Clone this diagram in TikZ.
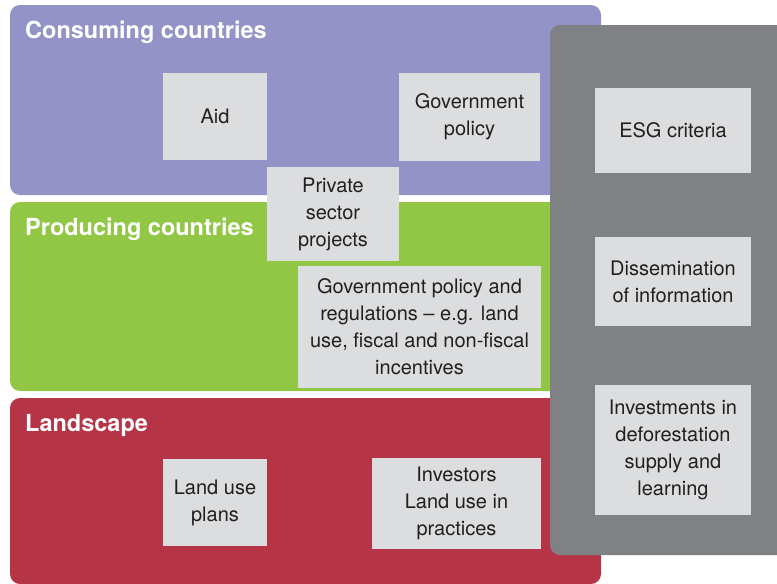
\documentclass[tikz,border=0pt]{standalone}
\usepackage{fontspec}
\setmainfont{TeX Gyre Heros}
\usetikzlibrary{positioning}

\definecolor{consumer}{HTML}{9393C8}
\definecolor{producer}{HTML}{92C746}
\definecolor{landscape}{HTML}{B53446}
\definecolor{finance}{HTML}{808184}
\definecolor{boxgrey}{HTML}{DCDDDF}
\definecolor{boxtext}{HTML}{231F20}

\tikzset{
	band/.style={rounded corners=10pt},
	title/.style={anchor=base west, inner sep=0pt, text=white, font=\fontsize{23.5}{27}\selectfont\bfseries},
	lever/.style={fill=boxgrey, inner sep=0pt, align=center, text=boxtext, font=\fontsize{20}{27}\selectfont}
}

\begin{document}
\begin{tikzpicture}[x=1pt, y=-1pt]
	\useasboundingbox (0, 0) rectangle (777, 584);
	\clip (0, 0) rectangle (777, 584);

	% Bands:
	\fill[band, consumer] (10, 5) rectangle (601, 195);
	\fill[band, producer] (10, 202) rectangle (601, 391);
	\fill[band, landscape] (10, 398) rectangle (601, 584);
	\fill[band, finance] (550, 25) rectangle (790, 555);

	% Titles:
	\node[title] (tconsume) at (25, 38) {Consuming countries};
	\node[title] (tproduce) at (25, 235) {Producing countries};
	\node[title] (tland) at (25, 431) {Landscape};

	% Consuming countries:
	\node[lever, minimum width=104, minimum height=87] (aid) at (215, 116.5) {Aid};
	\node[lever, minimum width=141, minimum height=88] (govpolicy) at (469.5, 117) {Government\\policy};
	\node[lever, minimum width=132, minimum height=94] (private) at (333, 214) {Private\\sector\\projects};

	% Producing countries:
	\node[lever, minimum width=243, minimum height=122] (regulations) at (419.5, 327) {Government policy and\\regulations -- e.g. land\\use, fiscal and non-fiscal\\incentives};

	% Landscape:
	\node[lever, minimum width=104, minimum height=87] (landplans) at (215, 502.5) {Land use\\plans};
	\node[lever, minimum width=169, minimum height=91] (investors) at (456.5, 503.5) {Investors\\Land use in\\practices};

	% Finance:
	\node[lever, minimum width=156, minimum height=85] (esg) at (673, 130.5) {ESG criteria};
	\node[lever, minimum width=156, minimum height=89] (dissemination) at (673, 281.5) {Dissemination\\of information};
	\node[lever, minimum width=156, minimum height=130] (investments) at (673, 450) {Investments in\\deforestation\\supply and\\learning};

\end{tikzpicture}
\end{document}
